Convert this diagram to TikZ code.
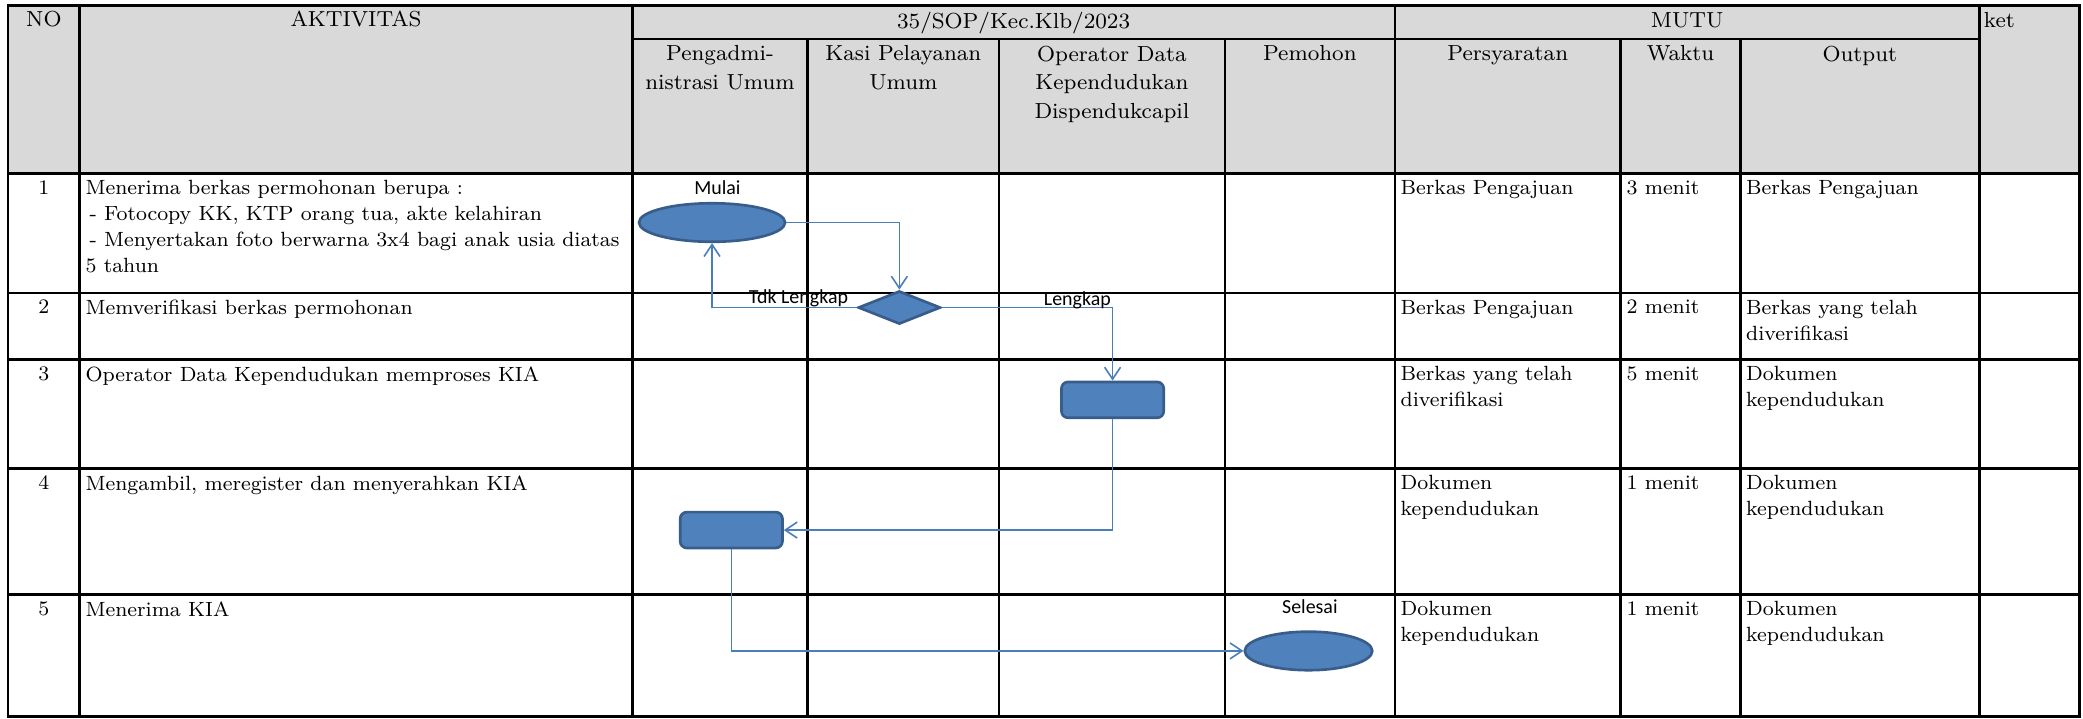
\documentclass[tikz,border=0pt]{standalone}
\usepackage{fontspec}
\newfontfamily\calibri{Carlito}
\usetikzlibrary{shapes.geometric,arrows.meta}
\definecolor{kotak}{HTML}{4F81BD}
\definecolor{tepi}{HTML}{385D8A}
\definecolor{garis}{HTML}{4A7EBB}
\definecolor{kepala}{HTML}{D9D9D9}
\begin{document}
\begin{tikzpicture}[x=0.5pt, y=-0.5pt,
    tabel/.style={line width=1pt},
    isi/.style={anchor=north west, inner sep=1.5pt, align=left, font=\fontsize{7.75}{9.75}\selectfont},
    nomor/.style={anchor=north, inner sep=1.5pt, font=\fontsize{7.75}{9.75}\selectfont},
    judul/.style={anchor=north, inner sep=1pt, align=center, font=\fontsize{8.2}{10.75}\selectfont},
    bentuk/.style={draw=tepi, fill=kotak, line width=1pt, inner sep=0pt},
    terminal/.style={bentuk, ellipse},
    proses/.style={bentuk, rectangle, rounded corners=2.5pt, minimum width=38.5pt, minimum height=13.5pt},
    putusan/.style={bentuk, diamond, minimum width=31pt, minimum height=12.5pt},
    ket/.style={font=\calibri\fontsize{7.5}{9}\selectfont, inner sep=0pt},
    alur/.style={draw=garis, line width=0.6pt, -{Straight Barb[length=4.5pt, width=6pt]}}]
  \useasboundingbox (0,0) rectangle (1568,540.5);

  \fill[kepala] (6,4) rectangle (1565.5,130.5);
  \draw[tabel] (6,4) rectangle (1565.5,539.5);
  \foreach \y in {130.5,220.5,270.5,352.5,447.5}
    \draw[tabel] (6,\y) -- (1565.5,\y);
  \draw[tabel] (476,29.4) -- (1490,29.4);
  \foreach \x in {60,476,1050,1490}
    \draw[tabel] (\x,4) -- (\x,539.5);
  \foreach \x in {608,752,922,1220,1310}
    \draw[tabel] (\x,29.4) -- (\x,539.5);

  \node[judul] (hno) at (33,6) {NO};
  \node[judul] (hakt) at (268,6) {AKTIVITAS};
  \node[judul] (hsop) at (763,7) {35/SOP/Kec.Klb/2023};
  \node[judul] (hmutu) at (1270,7) {MUTU};
  \node[judul, anchor=north west] (hket) at (1491,7) {ket};
  \node[judul] (hpeng) at (542,32) {Pengadmi-\\nistrasi Umum};
  \node[judul] (hkasi) at (680,32) {Kasi Pelayanan\\Umum};
  \node[judul] (hop) at (837,32) {Operator Data\\Kependudukan\\Dispendukcapil};
  \node[judul] (hpem) at (986,32) {Pemohon};
  \node[judul] (hsyr) at (1135,32) {Persyaratan};
  \node[judul] (hwkt) at (1265,32) {Waktu};
  \node[judul] (hout) at (1400,32) {Output};

  \foreach \n/\y/\akt/\syr/\wkt/\out in {
      1/130.5/{Menerima berkas permohonan berupa :\\\hspace{1.5pt}- Fotocopy KK, KTP orang tua, akte kelahiran\\\hspace{1.5pt}- Menyertakan foto berwarna 3x4 bagi anak usia diatas\\5 tahun}/{Berkas Pengajuan}/{3 menit}/{Berkas Pengajuan},
      2/220.5/{Memverifikasi berkas permohonan}/{Berkas Pengajuan}/{2 menit}/{Berkas yang telah\\diverifikasi},
      3/270.5/{Operator Data Kependudukan memproses KIA}/{Berkas yang telah\\diverifikasi}/{5 menit}/{Dokumen\\kependudukan},
      4/352.5/{Mengambil, meregister dan menyerahkan KIA}/{Dokumen\\kependudukan}/{1 menit}/{Dokumen\\kependudukan},
      5/447.5/{Menerima KIA}/{Dokumen\\kependudukan}/{1 menit}/{Dokumen\\kependudukan}} {
    \node[nomor] (no\n) at (33,\y+2) {\n};
    \node[isi] (akt\n) at (61,\y+2) {\akt};
    \node[isi] (syr\n) at (1051,\y+2) {\syr};
    \node[isi] (wkt\n) at (1221,\y+2) {\wkt};
    \node[isi] (out\n) at (1311,\y+2) {\out};
  }

  \node[terminal, minimum width=55pt, minimum height=14.5pt] (mulai) at (536,167.5) {};
  \node[ket] (tmulai) at (540,141) {Mulai};
  \node[putusan] (cek) at (677,231.5) {};
  \node[proses] (olah) at (837.5,301) {};
  \node[proses] (serah) at (550.5,399) {};
  \node[terminal, minimum width=48pt, minimum height=14.5pt] (selesai) at (985,490) {};
  \node[ket] (tselesai) at (986,457) {Selesai};

  \draw[alur] (mulai.east) -| (cek.north);
  \draw[alur] (cek.west) -| (mulai.south);
  \draw[alur] (cek.east) -| (olah.north);
  \draw[alur] (olah.south) |- (serah.east);
  \draw[alur] (serah.south) |- (selesai.west);

  \node[ket] (ttdk) at (601,224.5) {Tdk Lengkap};
  \node[ket] (tlkp) at (811,226) {Lengkap};
\end{tikzpicture}
\end{document}
